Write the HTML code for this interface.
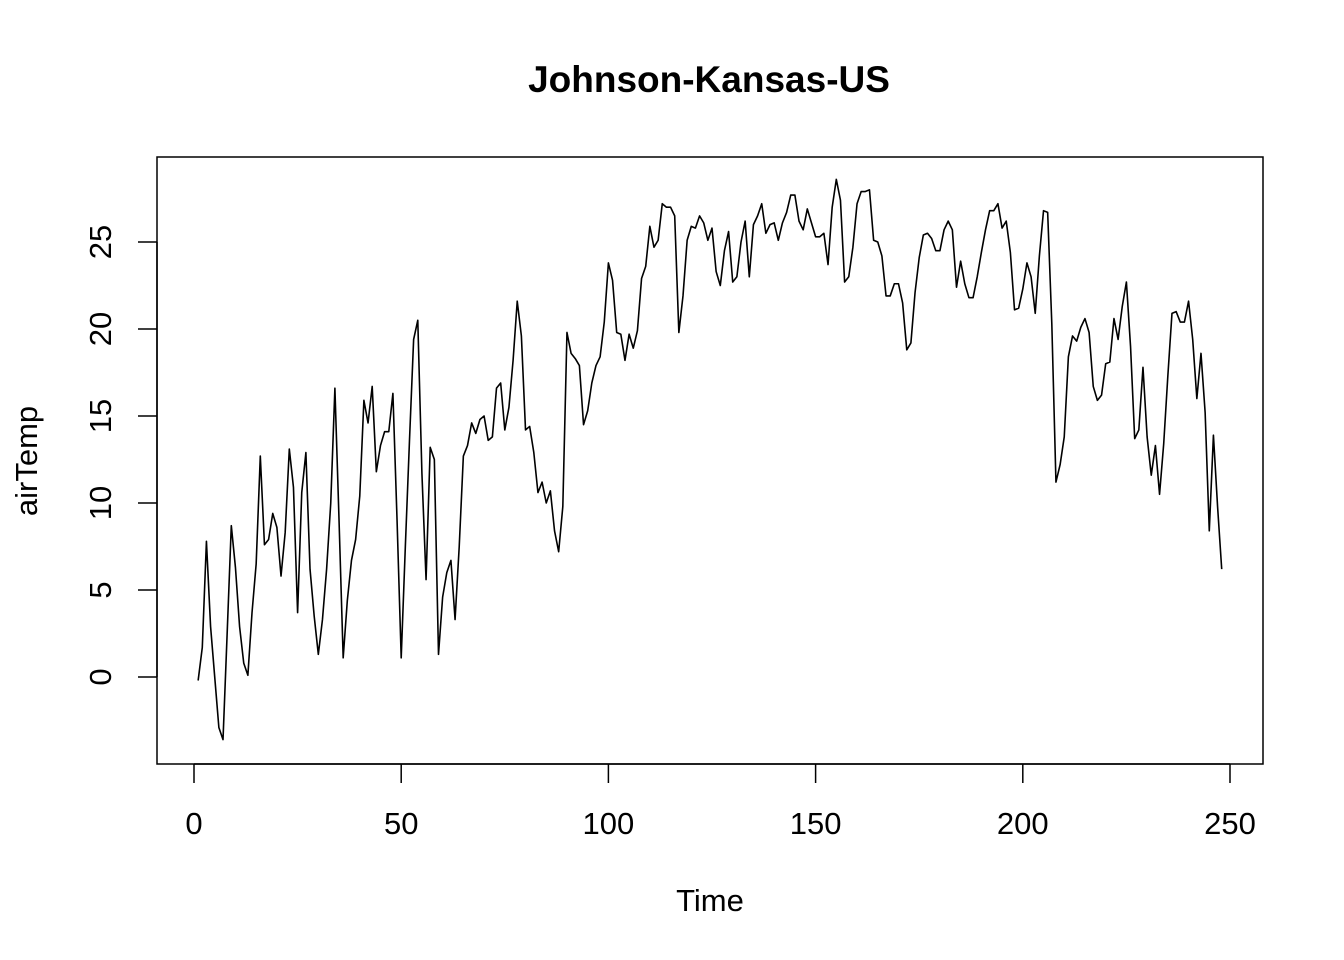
<!DOCTYPE html>
<html><head><meta charset="utf-8"><style>
html,body{margin:0;padding:0;background:#fff;}
svg{display:block;font-family:"Liberation Sans",Arial,sans-serif;}
</style></head><body>
<svg id="chart" width="1344" height="960" xmlns="http://www.w3.org/2000/svg">
<rect width="1344" height="960" fill="#fff"/>
<text x="709" y="92" text-anchor="middle" font-size="37" font-weight="bold">Johnson-Kansas-US</text>
<rect x="157" y="157" width="1106" height="607" fill="none" stroke="#000" stroke-width="1.5"/>
<g id="xaxis"></g>
<g id="yaxis"></g>
<text x="710" y="911" text-anchor="middle" font-size="31">Time</text>
<text transform="translate(37,461) rotate(-90)" text-anchor="middle" font-size="31">airTemp</text>
<path id="series" fill="none" stroke="#000" stroke-width="1.6" stroke-linejoin="round"/>
</svg>
<script>
const xTicks = [0, 50, 100, 150, 200, 250];
const yTicks = [0, 5, 10, 15, 20, 25];
const airTemp = [
-0.2,1.7,7.8,2.9,0,-2.9,-3.6,2.5,8.7,6.3,2.9,0.8,0.1,3.7,6.5,12.7,7.6,7.9,9.4,8.6,
5.8,8.3,13.1,10.9,3.7,10.6,12.9,6.2,3.5,1.3,3.3,6.2,10,16.6,9,1.1,4.4,6.7,7.9,10.4,
15.9,14.6,16.7,11.8,13.3,14.1,14.1,16.3,9.0,1.1,7.5,13.6,19.4,20.5,11.7,5.6,13.2,12.5,1.3,4.6,
6,6.7,3.3,7.5,12.7,13.3,14.6,14,14.8,15,13.6,13.8,16.6,16.9,14.2,15.5,18.2,21.6,19.6,14.2,
14.4,12.9,10.6,11.2,10,10.7,8.4,7.2,9.8,19.8,18.6,18.3,17.9,14.5,15.3,16.9,17.9,18.4,20.4,23.8,
22.8,19.8,19.7,18.2,19.7,18.9,19.9,22.9,23.6,25.9,24.7,25.1,27.2,27.0,27.0,26.5,19.8,21.9,25.1,25.9,
25.8,26.5,26.1,25.1,25.8,23.3,22.5,24.5,25.6,22.7,23.0,25.0,26.2,23.0,26.0,26.5,27.2,25.5,26.0,26.1,
25.1,26.1,26.7,27.7,27.7,26.2,25.7,26.9,26.1,25.3,25.3,25.5,23.7,27.0,28.6,27.4,22.7,23.0,24.7,27.2,
27.9,27.9,28.0,25.1,25.0,24.2,21.9,21.9,22.6,22.6,21.5,18.8,19.2,22.1,24.1,25.4,25.5,25.2,24.5,24.5,
25.7,26.2,25.7,22.4,23.9,22.6,21.8,21.8,23.0,24.4,25.7,26.8,26.8,27.2,25.8,26.2,24.4,21.1,21.2,22.3,
23.8,23.0,20.9,24.2,26.8,26.7,20.3,11.2,12.2,13.8,18.4,19.6,19.3,20.1,20.6,19.8,16.7,15.9,16.2,18.0,
18.1,20.6,19.4,21.3,22.7,19.0,13.7,14.2,17.8,13.8,11.6,13.3,10.5,13.4,17.3,20.9,21.0,20.4,20.4,21.6,
19.4,16.0,18.6,15.2,8.4,13.9,9.8,6.2
];
const NS = 'http://www.w3.org/2000/svg';
function xs(t){ return 194 + (t/250)*(1230-194); }
function ys(v){ return 677 - (v/25)*(677-242); }
const xa = document.getElementById('xaxis'), ya = document.getElementById('yaxis');
function mk(tag, attrs, parent){ const e=document.createElementNS(NS,tag); for(const k in attrs) e.setAttribute(k,attrs[k]); parent.appendChild(e); return e; }
const xl = mk('line',{x1:xs(xTicks[0]),x2:xs(xTicks[xTicks.length-1]),y1:764,y2:764,stroke:'#000','stroke-width':1.5},xa);


xTicks.forEach(t=>{
  const l = mk('line',{x1:xs(t),x2:xs(t),y1:764,y2:783,stroke:'#000','stroke-width':1.5},xa);
  
  
  const tx = mk('text',{x:xs(t),y:834,'text-anchor':'middle','font-size':31},xa);
  tx.textContent = t;
  
  
});
const yl = mk('line',{x1:157,x2:157,y1:ys(yTicks[0]),y2:ys(yTicks[yTicks.length-1]),stroke:'#000','stroke-width':1.5},ya);


yTicks.forEach(v=>{
  const l = mk('line',{x1:138,x2:157,y1:ys(v),y2:ys(v),stroke:'#000','stroke-width':1.5},ya);
  
  
  const tx = mk('text',{transform:'translate(111,'+ys(v)+') rotate(-90)','text-anchor':'middle','font-size':31},ya);
  tx.textContent = v;
  
  
});
document.getElementById('series').setAttribute('d', airTemp.map((v,i)=>(i?'L':'M')+xs(i+1).toFixed(2)+','+ys(v).toFixed(2)).join(' '));
</script>
</body></html>
